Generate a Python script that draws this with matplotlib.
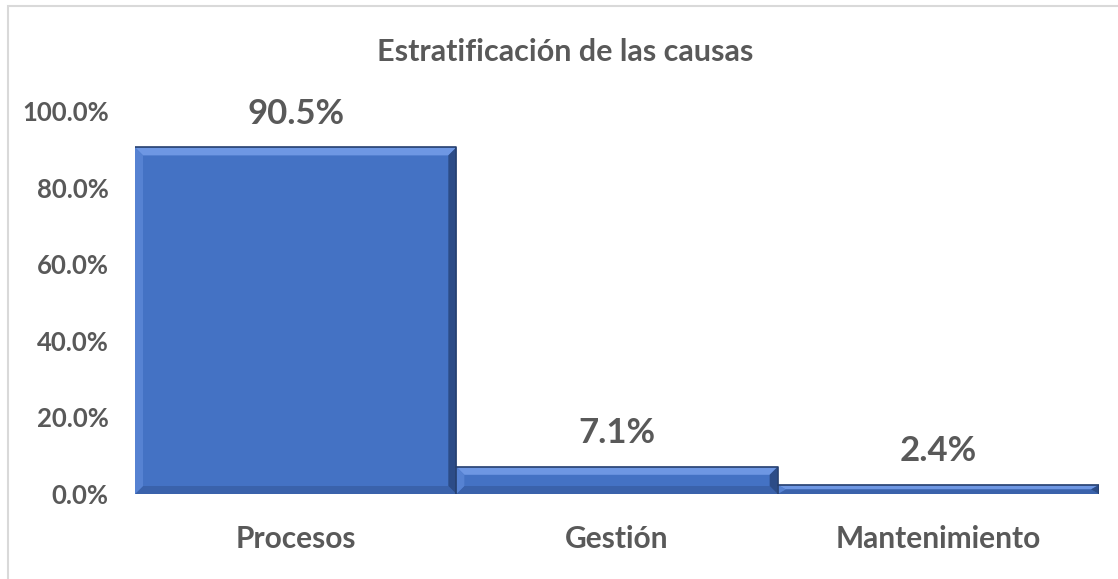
import matplotlib
matplotlib.use("Agg")
import matplotlib.pyplot as plt
from matplotlib.patches import Polygon, Rectangle
from matplotlib.ticker import FuncFormatter

categories = ["Procesos", "Gestión", "Mantenimiento"]
values = [0.905, 0.071, 0.024]
labels = ["90.5%", "7.1%", "2.4%"]

plt.rcParams['font.family'] = ['Lato', 'DejaVu Sans']
txt = "#595959"
blue = "#4472C4"

fig = plt.figure(figsize=(11.18, 5.79), dpi=100)
ax = fig.add_axes([135/1118, 1-494/579, (1099-135)/1118, (494-111)/579])

x = list(range(len(categories)))
ax.bar(x, values, width=1.0, color=blue, edgecolor="none", zorder=2)

# bevel look
px_x = 1.0 / 321.0
px_y = 1.0 / 383.0
for xi, v in zip(x, values):
    l, r = xi - 0.5, xi + 0.5
    b = 8
    by = min(b * px_y, v / 2)
    bx = b * px_x
    top = [(l, v), (r, v), (r - bx, v - by), (l + bx, v - by)]
    bot = [(l, 0), (r, 0), (r - bx, by), (l + bx, by)]
    lef = [(l, 0), (l, v), (l + bx, v - by), (l + bx, by)]
    rig = [(r, 0), (r, v), (r - bx, v - by), (r - bx, by)]
    ax.add_patch(Polygon(top, closed=True, color="#6E97E3", lw=0, zorder=3))
    ax.add_patch(Polygon(bot, closed=True, color="#3A62AB", lw=0, zorder=3))
    ax.add_patch(Polygon(lef, closed=True, color="#5682D2", lw=0, zorder=3))
    ax.add_patch(Polygon(rig, closed=True, color="#2C4C87", lw=0, zorder=3))
    ax.plot([l, r, r], [v, v, 0], color="#26406F", lw=1.2, zorder=4)

for xi, v, s in zip(x, values, labels):
    ax.annotate(s, (xi, v), xytext=(0, 24), textcoords="offset points",
                ha="center", va="center", fontsize=25,
                fontweight="bold", color=txt)

ax.set_xlim(-0.5, 2.5)
ax.set_ylim(0, 1.0)
ax.set_yticks([0, 0.2, 0.4, 0.6, 0.8, 1.0])
ax.yaxis.set_major_formatter(FuncFormatter(lambda v, p: "%.1f%%" % (v * 100)))
ax.set_xticks(x)
ax.set_xticklabels(categories)
for t in ax.get_yticklabels():
    t.set_fontsize(18.5)
    t.set_fontweight("bold")
    t.set_color(txt)
for t in ax.get_xticklabels():
    t.set_fontsize(21.5)
    t.set_fontweight("bold")
    t.set_color(txt)
ax.tick_params(axis="y", length=0, pad=19)
ax.tick_params(axis="x", length=0, pad=22)
for s in ax.spines.values():
    s.set_visible(False)
ax.axhline(0, color="#D9D9D9", lw=1, zorder=1)

fig.text(565/1118, 1-52/579, "Estratificación de las causas", ha="center",
         va="center", fontsize=22, fontweight="bold", color=txt)

fig.patches.append(Rectangle((8/1118, -0.05), 1.1, 1.05 - 6/579,
                             transform=fig.transFigure, fill=False,
                             edgecolor="#D9D9D9", lw=1.5))

fig.savefig("out.png", dpi=100)
